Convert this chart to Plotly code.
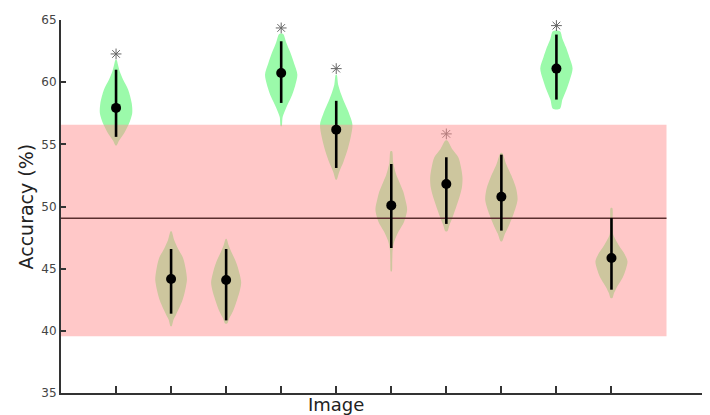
import plotly.graph_objects as go

# ---------------- data ----------------
images = [1, 2, 3, 4, 5, 6, 7, 8, 9, 10]
medians = [57.93, 44.17, 44.09, 60.74, 56.18, 50.09, 51.81, 50.79, 61.09, 45.86]
whisker_lo = [55.6, 41.38, 40.84, 58.33, 53.1, 46.66, 48.6, 48.06, 58.6, 43.31]
whisker_hi = [61.0, 46.58, 46.58, 63.29, 58.5, 53.42, 53.96, 54.17, 63.83, 49.08]
star_y = [62.27, None, None, 64.36, 61.09, None, 55.84, None, 64.55, None]

chance_mean = 49.06
chance_lo = 39.56
chance_hi = 56.58
chance_x = [0, 11]

# violin outlines: accuracy values and relative density (1 = widest)
profile_y = [
    [54.9, 55.3, 55.9, 56.7, 57.5, 58.3, 59.4, 60.2, 60.9, 61.4, 61.8],
    [40.36, 40.9, 41.3, 42.37, 43.2, 44.1, 45.0, 45.86, 46.6, 47.3, 48.0],
    [40.58, 41.0, 41.6, 42.5, 43.3, 43.9, 44.6, 45.5, 46.3, 46.9, 47.39],
    [56.45, 57.2, 57.95, 58.8, 59.7, 60.6, 61.5, 62.4, 63.2, 63.88],
    [52.16, 52.8, 53.6, 54.7, 55.6, 56.6, 57.66, 58.4, 59.0, 59.8, 60.6],
    [44.78, 45.6, 46.6, 47.2, 48.0, 48.8, 49.75, 50.6, 51.2, 52.0, 52.56, 53.5, 54.44],
    [48.0, 48.5, 49.08, 49.88, 50.7, 51.5, 52.3, 53.2, 53.96, 54.6, 55.3],
    [47.2, 47.8, 48.54, 49.35, 50.55, 51.5, 52.3, 53.37, 54.31],
    [57.87, 58.6, 59.4, 60.2, 61.1, 62.0, 62.8, 63.5, 64.09],
    [42.64, 43.0, 43.45, 44.25, 45.0, 45.6, 46.2, 46.66, 47.2, 47.7, 48.8, 49.88],
]
profile_d = [
    [0.03, 0.19, 0.5, 0.81, 1.0, 0.97, 0.75, 0.44, 0.22, 0.12, 0.03],
    [0.03, 0.15, 0.31, 0.68, 0.86, 0.98, 0.9, 0.74, 0.43, 0.19, 0.03],
    [0.06, 0.19, 0.43, 0.68, 0.86, 0.93, 0.83, 0.62, 0.34, 0.15, 0.03],
    [0.03, 0.09, 0.31, 0.62, 0.86, 1.0, 0.8, 0.56, 0.31, 0.12],
    [0.03, 0.19, 0.45, 0.73, 0.9, 1.0, 0.74, 0.49, 0.31, 0.12, 0.03],
    [0.03, 0.06, 0.09, 0.19, 0.46, 0.8, 0.98, 0.86, 0.74, 0.49, 0.31, 0.12, 0.05],
    [0.06, 0.19, 0.37, 0.59, 0.8, 0.96, 1.0, 0.9, 0.74, 0.37, 0.06],
    [0.05, 0.22, 0.49, 0.74, 1.0, 0.9, 0.68, 0.31, 0.05],
    [0.22, 0.37, 0.62, 0.83, 1.0, 0.8, 0.59, 0.37, 0.22],
    [0.06, 0.15, 0.31, 0.68, 0.9, 0.99, 0.8, 0.56, 0.31, 0.12, 0.07, 0.05],
]

y_ticks = [35, 40, 45, 50, 55, 60, 65]

# ---------------- styles ----------------
HALF_WIDTH = 0.294
GREEN = "rgb(155,250,170)"
BAND = "rgba(255,145,145,0.5)"
AXIS = "#333333"
FONT = "DejaVu Sans"

fig = go.Figure()

# violins
for cx, ys, ds in zip(images, profile_y, profile_d):
    xs_r = [cx + HALF_WIDTH * d for d in ds]
    xs_l = [cx - HALF_WIDTH * d for d in reversed(ds)]
    fig.add_trace(go.Scatter(
        x=xs_r + xs_l + [xs_r[0]],
        y=ys + list(reversed(ys)) + [ys[0]],
        mode="lines", fill="toself", fillcolor=GREEN,
        line=dict(width=0, color=GREEN, shape="spline", smoothing=0.8),
        hoverinfo="skip", showlegend=False,
    ))

# significance asterisks
sx = [x for x, s in zip(images, star_y) if s is not None]
sy = [s for s in star_y if s is not None]
fig.add_trace(go.Scatter(
    x=sx, y=sy, mode="markers",
    marker=dict(symbol="asterisk-open", size=9, color="#666666",
                line=dict(color="#666666", width=1)),
    showlegend=False, hoverinfo="skip",
))

# chance band
fig.add_trace(go.Scatter(
    x=[chance_x[0], chance_x[1], chance_x[1], chance_x[0], chance_x[0]],
    y=[chance_lo, chance_lo, chance_hi, chance_hi, chance_lo],
    mode="lines", fill="toself", fillcolor=BAND, line=dict(width=0),
    hoverinfo="skip", showlegend=False,
))

# chance mean line
fig.add_trace(go.Scatter(
    x=chance_x, y=[chance_mean, chance_mean], mode="lines",
    line=dict(color="#5a2e2e", width=1.5), hoverinfo="skip", showlegend=False,
))

# whiskers
wx, wy = [], []
for cx, lo, hi in zip(images, whisker_lo, whisker_hi):
    wx += [cx, cx, None]
    wy += [lo, hi, None]
fig.add_trace(go.Scatter(
    x=wx, y=wy, mode="lines", line=dict(color="black", width=2.6),
    hoverinfo="skip", showlegend=False,
))

# medians
fig.add_trace(go.Scatter(
    x=images, y=medians, mode="markers",
    marker=dict(color="black", size=10, line=dict(width=0)),
    showlegend=False,
))

# page body has an 8px margin, so the figure is sized to end at the window edge
fig.update_layout(
    width=702, height=407,
    margin=dict(l=53, r=0, t=12, b=22),
    paper_bgcolor="white", plot_bgcolor="white",
    font=dict(family=FONT, color=AXIS, size=12),
    xaxis=dict(
        range=[0, 11.79], tickmode="array", tickvals=images, ticktext=[""] * len(images),
        ticks="inside", ticklen=7, tickwidth=2, tickcolor=AXIS,
        showline=True, linecolor=AXIS, linewidth=2, showgrid=False, zeroline=False,
    ),
    yaxis=dict(
        range=[35, 65], tickmode="array", tickvals=y_ticks,
        ticks="inside", ticklen=5, tickwidth=2, tickcolor=AXIS,
        showline=True, linecolor=AXIS, linewidth=2, showgrid=False, zeroline=False,
        tickfont=dict(size=12, color="#444444"),
    ),
    annotations=[
        dict(text="Accuracy (%)", xref="paper", yref="paper", x=-0.054, y=0.5,
             textangle=-90, showarrow=False, font=dict(size=19, color="#222222", family=FONT),
             xanchor="center", yanchor="middle"),
        dict(text="Image", xref="x", yref="paper", x=4.99, y=-0.03,
             showarrow=False, font=dict(size=18, color="#222222", family=FONT),
             xanchor="center", yanchor="middle"),
    ],
)

fig.write_html("out.html")
